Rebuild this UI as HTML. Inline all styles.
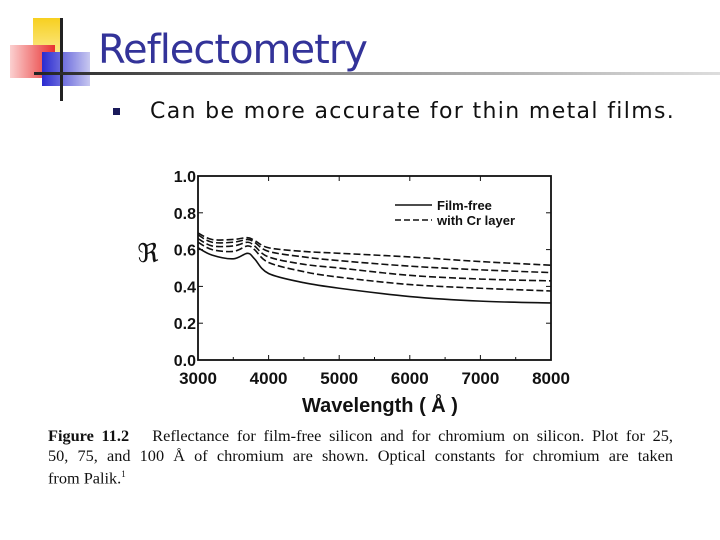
<!DOCTYPE html>
<html><head><meta charset="utf-8"><style>
body{margin:0;width:720px;height:540px;background:#fff;overflow:hidden;position:relative;font-family:"Liberation Sans",sans-serif}
.abs{position:absolute}
.cap{font-family:'Liberation Serif',serif;font-size:16.3px;line-height:19.5px;color:#111;width:625px;text-align:justify;text-align-last:justify;white-space:nowrap}
</style></head><body>
<div class="abs" style="left:33px;top:18px;width:30px;height:36px;background:linear-gradient(#f7d020,#fbe98a)"></div>
<div class="abs" style="left:10px;top:45px;width:45px;height:33px;background:linear-gradient(90deg,#fbd0d0,#e83030)"></div>
<div class="abs" style="left:42px;top:52px;width:48px;height:34px;background:linear-gradient(90deg,#2a2ad0,#c8c8f0)"></div>
<div class="abs" style="left:60px;top:18px;width:3px;height:83px;background:#222"></div>
<div class="abs" style="left:34px;top:72px;width:686px;height:3px;background:linear-gradient(90deg,#222,#888 40%,#ddd)"></div>
<div class="abs" style="left:98px;top:25px;font-family:'DejaVu Sans',sans-serif;font-size:40px;letter-spacing:-1px;color:#333399;line-height:50px">Reflectometry</div>
<div class="abs" style="left:113px;top:108px;width:7px;height:7px;background:#1a1a5a"></div>
<div class="abs" style="left:150px;top:97px;font-family:'DejaVu Sans',sans-serif;font-size:22px;letter-spacing:1.35px;color:#111;line-height:30px">Can be more accurate for thin metal films.</div>
<svg class="abs" style="left:0;top:0" width="720" height="540">
<g id="plot"></g>
</svg>
<div class="abs" style="left:48px;top:426px">
<div class="cap"><b>Figure 11.2</b>&nbsp;&nbsp; Reflectance for film-free silicon and for chromium on silicon. Plot for 25,</div>
<div class="cap">50, 75, and 100 Å of chromium are shown. Optical constants for chromium are taken</div>
<div class="cap" style="text-align-last:left">from Palik.<sup style="font-size:9px">1</sup></div>
</div>
<script>
const xs=[3000,3200,3500,3700,3800,4000,4500,5000,6000,7000,8000];
const filmFree=[0.61,0.57,0.55,0.58,0.55,0.47,0.42,0.39,0.345,0.32,0.31];
const cr25=[0.64,0.60,0.59,0.62,0.60,0.53,0.48,0.45,0.41,0.39,0.375];
const cr50=[0.66,0.62,0.62,0.64,0.62,0.56,0.52,0.50,0.46,0.44,0.43];
const cr75=[0.68,0.64,0.64,0.655,0.64,0.59,0.56,0.54,0.51,0.49,0.475];
const cr100=[0.69,0.655,0.655,0.665,0.65,0.61,0.59,0.58,0.56,0.535,0.515];
const xTicks=[3000,4000,5000,6000,7000,8000];
const yTicks=[0.0,0.2,0.4,0.6,0.8,1.0];
const L=198,R=551,T=176,B=360;
const sx=v=>L+(v-3000)/5000*(R-L), sy=v=>B-v*(B-T);
const g=document.getElementById('plot'),NS='http://www.w3.org/2000/svg';
function mk(t,a,txt){const e=document.createElementNS(NS,t);for(const k in a)e.setAttribute(k,a[k]);if(txt!=null)e.textContent=txt;g.appendChild(e);return e;}
function smooth(pts){let d='M'+pts[0][0]+','+pts[0][1];for(let i=0;i<pts.length-1;i++){const p0=pts[i-1]||pts[i],p1=pts[i],p2=pts[i+1],p3=pts[i+2]||p2;
d+=' C'+(p1[0]+(p2[0]-p0[0])/6)+','+(p1[1]+(p2[1]-p0[1])/6)+' '+(p2[0]-(p3[0]-p1[0])/6)+','+(p2[1]-(p3[1]-p1[1])/6)+' '+p2[0]+','+p2[1];}return d;}
const fr=mk('rect',{x:L,y:T,width:R-L,height:B-T,fill:'none',stroke:'#111','stroke-width':1.8});

xTicks.forEach((v,i)=>{
 const t=mk('text',{x:sx(v),y:384,'text-anchor':'middle','font-size':17,'font-weight':'bold',fill:'#111'},v);
 
 mk('line',{x1:sx(v),x2:sx(v),y1:B,y2:B-5,stroke:'#111'});mk('line',{x1:sx(v),x2:sx(v),y1:T,y2:T+5,stroke:'#111'});
 if(i<5){mk('line',{x1:sx(v+500),x2:sx(v+500),y1:B,y2:B-3,stroke:'#111'});}
});
yTicks.forEach(v=>{
 const t=mk('text',{x:L-2,y:sy(v)+6,'text-anchor':'end','font-size':16,'font-weight':'bold',fill:'#111'},v.toFixed(1));
 
 mk('line',{x1:L,x2:L+5,y1:sy(v),y2:sy(v),stroke:'#111'});mk('line',{x1:R,x2:R-5,y1:sy(v),y2:sy(v),stroke:'#111'});
});
const yt=mk('text',{x:148,y:262,'text-anchor':'middle','font-size':26,'font-family':'Liberation Serif,serif',fill:'#111'},'ℜ');

const xt=mk('text',{x:380,y:412,'text-anchor':'middle','font-size':20,'font-weight':'bold',fill:'#111'},'Wavelength ( Å )');

const series=[[filmFree,'film-free-line',null],[cr25,'cr-25-line','7,3'],[cr50,'cr-50-line','7,3'],[cr75,'cr-75-line','7,3'],[cr100,'cr-100-line','7,3']];
series.forEach(([d,n,dash])=>{
 const p=mk('path',{d:smooth(xs.map((x,i)=>[sx(x),sy(d[i])])),fill:'none',stroke:'#111','stroke-width':1.6});
 if(dash)p.setAttribute('stroke-dasharray',dash);
 
});
const l1=mk('line',{x1:395,x2:432,y1:205,y2:205,stroke:'#111','stroke-width':1.6});
const l2=mk('line',{x1:395,x2:432,y1:220,y2:220,stroke:'#111','stroke-width':1.6,'stroke-dasharray':'6,3'});
const t1=mk('text',{x:437,y:210,'font-size':13,'font-weight':'bold',fill:'#111'},'Film-free');
const t2=mk('text',{x:437,y:225,'font-size':13,'font-weight':'bold',fill:'#111'},'with Cr layer');
</script>
</body></html>
